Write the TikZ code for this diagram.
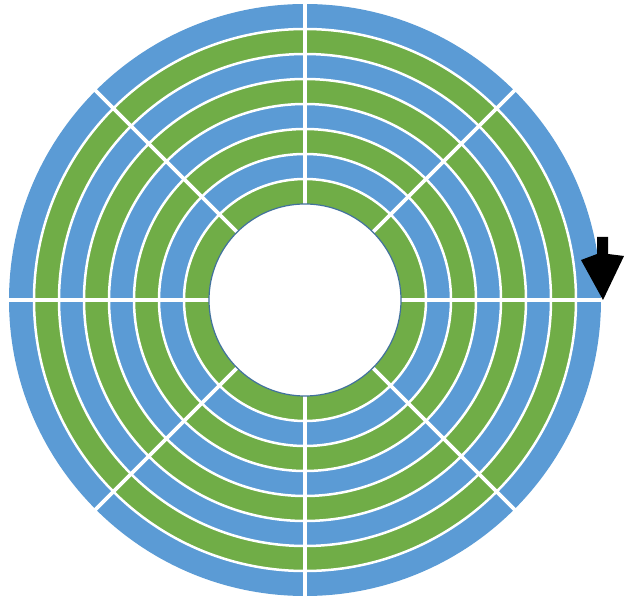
\documentclass[tikz,border=0pt]{standalone}
\usepackage{tikz}
\usetikzlibrary{calc}
\definecolor{diskblue}{HTML}{5B9BD5}
\definecolor{diskgreen}{HTML}{70AD47}
\definecolor{holeedge}{HTML}{41719C}
\tikzset{
  ringsep/.style={white, line width=2.5pt},
  sectorsep/.style={white, line width=3.8pt},
}
\begin{document}
\begin{tikzpicture}[x=1pt,y=-1pt]
\useasboundingbox (0,0) rectangle (624,601);
\coordinate (c) at (305,300);
% rings, inner (i=0) to outer (i=7)
\foreach \i in {0,...,7}{
  \pgfmathsetmacro{\rin}{96+25*\i}
  \pgfmathsetmacro{\rout}{96+25*(\i+1)}
  \pgfmathparse{int(mod(\i,2))}
  \ifnum\pgfmathresult=0
    \fill[diskgreen, even odd rule] (c) circle[radius=\rout] (c) circle[radius=\rin];
  \else
    \fill[diskblue, even odd rule] (c) circle[radius=\rout] (c) circle[radius=\rin];
  \fi
}
% ring separators
\foreach \k in {1,...,7}{
  \draw[ringsep] (c) circle[radius={96+25*\k}];
}
% sector separators
\foreach \a in {0,45,...,315}{
  \draw[sectorsep] ($(c)+(\a:95)$) -- ($(c)+(\a:298)$);
}
% hole
\fill[white] (c) circle[radius=96];
\draw[holeedge, line width=1.2pt] (c) circle[radius=96];
% arrow
\fill[black] (597,237) -- (608,237) -- (608,254) -- (624,256) -- (603,300) -- (581,260) -- (597,254) -- cycle;
\end{tikzpicture}
\end{document}
